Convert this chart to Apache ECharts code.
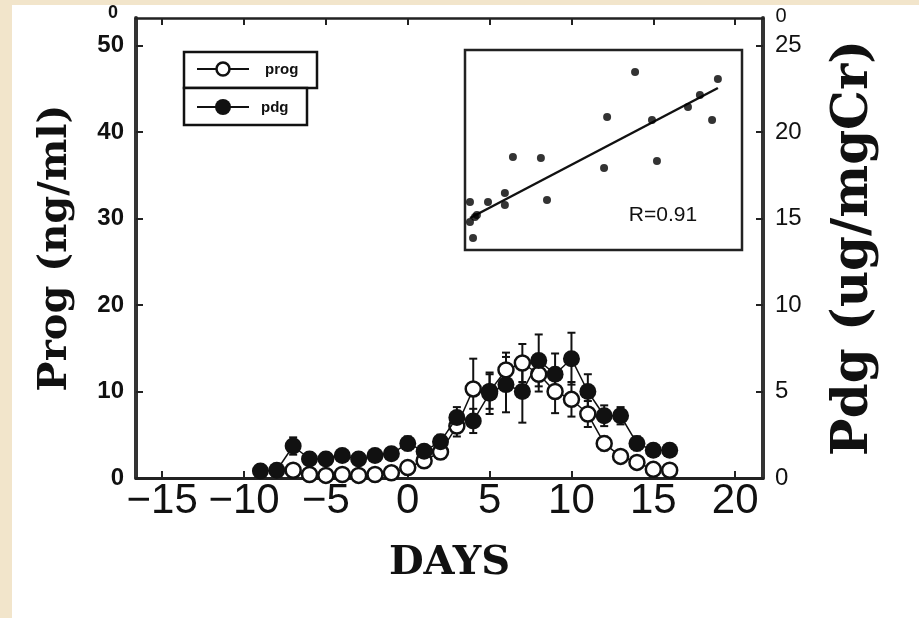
<!DOCTYPE html>
<html>
<head>
<meta charset="utf-8">
<script src="https://cdn.jsdelivr.net/npm/echarts@6/dist/echarts.min.js"></script>
<style>
html,body{margin:0;padding:0;background:#fff;}
#c{width:919px;height:618px;}
</style>
</head>
<body>
<div id="c"></div>
<script>
// ---- data ----
const days = [-9,-8,-7,-6,-5,-4,-3,-2,-1,0,1,2,3,4,5,6,7,8,9,10,11,12,13,14,15,16];
const prog = ['-','-',0.9,0.4,0.3,0.4,0.3,0.4,0.6,1.2,2.0,3.0,6.0,10.3,10.0,12.5,13.3,12.0,10.0,9.1,7.4,4.0,2.5,1.8,1.0,0.9];
const progErr = [0,0,0.5,0.2,0.2,0.2,0.2,0.2,0.3,0.5,0.6,0.8,1.2,3.5,2.0,2.0,2.2,2.0,2.5,2.0,1.5,0.8,0.6,0.4,0.3,0.3];
const pdg = [0.4,0.45,1.85,1.1,1.1,1.3,1.1,1.3,1.4,2.0,1.55,2.1,3.5,3.3,4.9,5.4,5.0,6.8,6.0,6.9,5.0,3.6,3.6,2.0,1.6,1.6];
const pdgErr = [0.2,0.2,0.5,0.3,0.3,0.3,0.3,0.3,0.3,0.4,0.3,0.4,0.6,0.7,1.2,1.6,1.8,1.5,1.2,1.5,1.0,0.6,0.5,0.4,0.3,0.3];
const xTicks = [-15,-10,-5,0,5,10,15,20];
const progTicks = [0,10,20,30,40,50];
const pdgTicks = [0,5,10,15,20,25];
// inset correlation scatter (arbitrary units)
const insetX = [61.4,91.3,84.8,80.5,51.3,67.5,89.2,17.3,27.4,69.3,50.2,29.6,14.4,14.4,8.3,1.8,3.6,1.8,2.9,4.3];
const insetY = [89,85.5,77.5,71.5,66.5,65,65,46.5,46,44.5,41,25,28.5,22.5,24,24,16.5,14,6,17.5];
const fitX = [1.8,91.3];
const fitY = [16,81];

const chart = echarts.init(document.getElementById('c'), null, {renderer:'canvas'});

function errSeries(name, vals, errs, yIdx) {
  const data = [];
  days.forEach((d,i)=>{
    if (vals[i] === '-' || !errs[i]) return;
    data.push([d, vals[i]-errs[i], vals[i]+errs[i]]);
  });
  return {
    name: name, type:'custom', xAxisIndex:0, yAxisIndex:yIdx, z:2, silent:true,
    data: data,
    renderItem: function(params, api){
      const x = api.value(0);
      const p1 = api.coord([x, api.value(1)]);
      const p2 = api.coord([x, api.value(2)]);
      const w = 4;
      const st = {stroke:'#111', lineWidth:2};
      return {type:'group', children:[
        {type:'line', shape:{x1:p1[0],y1:p1[1],x2:p2[0],y2:p2[1]}, style:st},
        {type:'line', shape:{x1:p1[0]-w,y1:p1[1],x2:p1[0]+w,y2:p1[1]}, style:st},
        {type:'line', shape:{x1:p2[0]-w,y1:p2[1],x2:p2[0]+w,y2:p2[1]}, style:st}
      ]};
    }
  };
}

const minus = v => String(v).replace('-', '\u2212');

const option = {
  backgroundColor:'#fff',
  animation:false,
  grid:[
    {left:136, right:156, top:18, bottom:140},
    {left:465, top:50, width:277, height:200, show:true, backgroundColor:'#fff', borderColor:'#222', borderWidth:2.5}
  ],
  xAxis:[
    {type:'value', gridIndex:0, min:-16.6, max:21.7, position:'bottom',
     axisLine:{show:true, onZero:false, lineStyle:{color:'#222', width:3}}, splitLine:{show:false},
     axisTick:{show:true, inside:true, length:7, customValues:xTicks, lineStyle:{color:'#222', width:2}},
     axisLabel:{show:true, customValues:xTicks, formatter:minus, fontFamily:'Liberation Sans', fontSize:42, color:'#111', margin:2},
     name:'DAYS', nameLocation:'middle', nameGap:66,
     nameTextStyle:{fontFamily:'DejaVu Serif', fontWeight:'bold', fontSize:40, color:'#111'}},
    {type:'value', gridIndex:0, min:-16.6, max:21.7, position:'top',
     axisLine:{show:true, onZero:false, lineStyle:{color:'#222', width:2.5}}, splitLine:{show:false},
     axisTick:{show:true, inside:true, length:7, customValues:xTicks, lineStyle:{color:'#222', width:2}},
     axisLabel:{show:false}},
    {type:'value', gridIndex:1, min:0, max:100, show:false, splitLine:{show:false}}
  ],
  yAxis:[
    {type:'value', gridIndex:0, min:0, max:53.2, position:'left',
     axisLine:{show:true, onZero:false, lineStyle:{color:'#333', width:4}}, splitLine:{show:false},
     axisTick:{show:true, inside:true, length:7, customValues:progTicks, lineStyle:{color:'#222', width:2}},
     axisLabel:{show:true, customValues:progTicks, fontFamily:'Liberation Sans', fontWeight:'bold', fontSize:24, color:'#111', margin:12},
     name:'Prog (ng/ml)', nameLocation:'middle', nameGap:60, nameRotate:90,
     nameTextStyle:{fontFamily:'DejaVu Serif', fontWeight:'bold', fontSize:40, color:'#111'}},
    {type:'value', gridIndex:0, min:0, max:26.6, position:'right',
     axisLine:{show:true, onZero:false, lineStyle:{color:'#333', width:4}}, splitLine:{show:false},
     axisTick:{show:true, inside:true, length:7, customValues:pdgTicks, lineStyle:{color:'#222', width:2}},
     axisLabel:{show:true, customValues:pdgTicks, fontFamily:'Liberation Sans', fontSize:24, color:'#111', margin:12},
     name:'Pdg (ug/mgCr)', nameLocation:'middle', nameGap:66, nameRotate:90,
     nameTextStyle:{fontFamily:'DejaVu Serif', fontWeight:'bold', fontSize:50, color:'#111'}},
    {type:'value', gridIndex:1, min:0, max:100, show:false, splitLine:{show:false}}
  ],
  series:[
    errSeries('progErr', prog, progErr, 0),
    errSeries('pdgErr', pdg, pdgErr, 1),
    {name:'prog', type:'line', xAxisIndex:0, yAxisIndex:0, z:3,
     data: days.map((d,i)=>[d, prog[i]]),
     symbol:'circle', symbolSize:15, showAllSymbol:true,
     lineStyle:{color:'#111', width:1.5},
     itemStyle:{color:'#fff', borderColor:'#111', borderWidth:2.5}},
    {name:'pdg', type:'line', xAxisIndex:0, yAxisIndex:1, z:4,
     data: days.map((d,i)=>[d, pdg[i]]),
     symbol:'circle', symbolSize:17, showAllSymbol:true,
     lineStyle:{color:'#111', width:1.5},
     itemStyle:{color:'#111', borderColor:'#111', borderWidth:0}},
    {name:'insetPts', type:'scatter', xAxisIndex:2, yAxisIndex:2, z:5,
     data: insetX.map((x,i)=>[x, insetY[i]]),
     symbol:'circle', symbolSize:8, itemStyle:{color:'#000'}},
    {name:'fit', type:'line', xAxisIndex:2, yAxisIndex:2, z:5,
     data: fitX.map((x,i)=>[x, fitY[i]]),
     symbol:'none', lineStyle:{color:'#111', width:2.5}}
  ],
  graphic:[
    {type:'rect', left:0, top:0, shape:{width:919, height:5}, style:{fill:'#f2e5cb'}, z:100},
    {type:'rect', left:0, top:0, shape:{width:12, height:618}, style:{fill:'#f2e5cb'}, z:100},
    {type:'text', x:113, y:13, style:{text:'0', font:'bold 18px "Liberation Sans"', fill:'#111', textAlign:'center', textVerticalAlign:'middle'}},
    {type:'text', x:781, y:16, style:{text:'0', font:'20px "Liberation Sans"', fill:'#111', textAlign:'center', textVerticalAlign:'middle'}},
    {type:'text', x:663, y:215, z:10, style:{text:'R=0.91', font:'21px "Liberation Sans"', fill:'#111', textAlign:'center', textVerticalAlign:'middle'}},
    // legend
    {type:'rect', shape:{x:184, y:52, width:133, height:36}, style:{fill:'#fff', stroke:'#111', lineWidth:2.5}, z:10},
    {type:'rect', shape:{x:184, y:88, width:123, height:37}, style:{fill:'#fff', stroke:'#111', lineWidth:2.5}, z:10},
    {type:'line', shape:{x1:197, y1:69, x2:249, y2:69}, style:{stroke:'#111', lineWidth:2}, z:11},
    {type:'circle', shape:{cx:223, cy:69, r:6.5}, style:{fill:'#fff', stroke:'#111', lineWidth:2.5}, z:12},
    {type:'text', x:265, y:70, z:12, style:{text:'prog', font:'bold 15px "Liberation Sans"', fill:'#111', textVerticalAlign:'middle'}},
    {type:'line', shape:{x1:197, y1:107, x2:249, y2:107}, style:{stroke:'#111', lineWidth:2}, z:11},
    {type:'circle', shape:{cx:223, cy:107, r:8}, style:{fill:'#111'}, z:12},
    {type:'text', x:261, y:108, z:12, style:{text:'pdg', font:'bold 15px "Liberation Sans"', fill:'#111', textVerticalAlign:'middle'}}
  ]
};
chart.setOption(option);
</script>
</body>
</html>
